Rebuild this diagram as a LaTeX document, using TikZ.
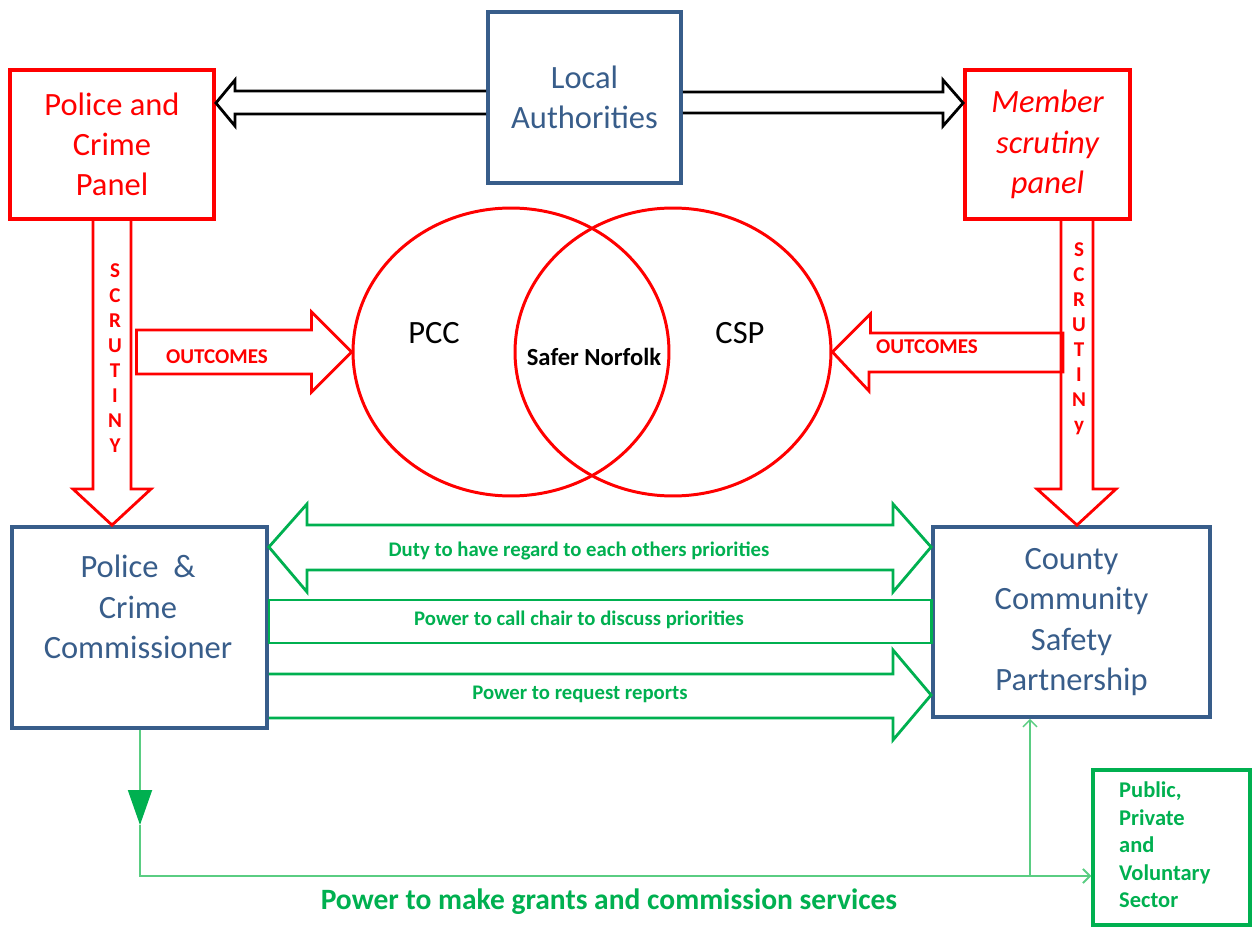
\documentclass[tikz,border=0pt]{standalone}
\usepackage{fontspec}
\setmainfont{Carlito}
\usetikzlibrary{positioning,arrows.meta,calc,shapes.geometric}
\definecolor{boxBlue}{RGB}{56,93,138}
\definecolor{panelRed}{RGB}{255,0,0}
\definecolor{dutyGreen}{RGB}{0,176,80}
\definecolor{lineGreen}{RGB}{90,205,130}

\begin{document}
\begin{tikzpicture}[x=0.02cm,y=-0.02cm,
                  bluebox/.style={draw=boxBlue,line width=2.2pt,align=center,text=boxBlue,font=\fontsize{18.5}{22.9}\selectfont},
                  redbox/.style={draw=panelRed,line width=2.2pt,align=center,text=panelRed,font=\fontsize{18.5}{22.9}\selectfont},
                  bluetext/.style={align=center,text=boxBlue,font=\fontsize{18.5}{22.9}\selectfont},
                  ring/.style={ellipse,draw=panelRed,line width=1.7pt,minimum width=6.32cm,minimum height=5.76cm},
                  ringtext/.style={text=black,font=\fontsize{18.5}{22}\selectfont},
                  hollow/.style={draw=black,line width=1.6pt,line join=miter},
                  redarr/.style={draw=panelRed,line width=1.6pt,line join=miter},
                  grnarr/.style={draw=dutyGreen,line width=1.6pt,line join=miter},
                  redlbl/.style={text=panelRed,font=\bfseries\fontsize{12}{14.2}\selectfont,align=center},
                  grnlbl/.style={text=dutyGreen,font=\bfseries\fontsize{11.8}{13}\selectfont},
                  feed/.style={draw=lineGreen,line width=1.1pt}
                ]
                \useasboundingbox (0,0) rectangle (1252,929);
                
                % boxes
                \node[bluebox,minimum width=3.86cm,minimum height=3.42cm] (la) at (584.5,97.5) {Local\\Authorities};
                \node[redbox,minimum width=4.08cm,minimum height=2.98cm] (pcp) at (112,144.5) {Police and\\Crime\\Panel};
                \node[redbox,font=\itshape\fontsize{18.5}{22.9}\selectfont,minimum width=3.3cm,minimum height=2.98cm] (msp) at (1047.5,144.5) {Member\\scrutiny\\panel};
                \node[bluebox,minimum width=5.1cm,minimum height=4.02cm] (pcc) at (139.5,627.5) {};
                \node[bluetext] (pcctext) at (138,607) {Police\ \ \&\\Crime\\Commissioner};
                \node[bluebox,minimum width=5.54cm,minimum height=3.8cm] (ccsp) at (1071.5,622) {County\\Community\\Safety\\Partnership};
                \node[draw=dutyGreen,line width=2pt,minimum width=3.14cm,minimum height=3.1cm] (pub) at (1171.5,847.5) {};
                \node[text=dutyGreen,font=\bfseries\fontsize{12.8}{15.6}\selectfont,align=left,anchor=west] (pubtext) at (1113,845) {Public,\\Private\\and\\Voluntary\\Sector};
                
                % rings
                \node[ring] (pccring) at (511,352) {};
                \node[ring] (cspring) at (673,352) {};
                \node[ringtext] (pcclbl) at (434,333) {PCC};
                \node[ringtext] (csplbl) at (740,333) {CSP};
                \node[font=\bfseries\fontsize{14}{16}\selectfont] (safer) at (594,357) {Safer Norfolk};
                
                % local authorities links
                \draw[hollow] (la.west |- 0,91) -- (235,91) -- (235,80) -- (pcp.east |- 0,103) -- (235,126) -- (235,114) -- (la.west |- 0,114);
                \draw[hollow] (la.east |- 0,92) -- (943,92) -- (943,80) -- (msp.west |- 0,103) -- (943,126) -- (943,113) -- (la.east |- 0,113);
                
                % scrutiny and outcomes
                \draw[redarr] ($(pcp.south)+(-19,0)$) -- (93,489) -- (73,489) -- (pcc.north -| pcp.south) -- (151,489) -- (131,489) -- ($(pcp.south)+(19,0)$);
                \node[redlbl] (scrleft) at (115,358) {S\\C\\R\\U\\T\\I\\N\\Y};
                \draw[redarr] (1061,0 |- msp.south) -- (1061,489) -- (1037,489) -- (ccsp.north -| 1077,0) -- (1116,489) -- (1093,489) -- (1093,0 |- msp.south);
                \node[redlbl] (scrright) at (1079,339) {S\\C\\R\\U\\T\\I\\N\\y};
                \draw[redarr] (pccring.west) -- ++(-40,-40) -- ++(0,18) -- ++(-175,0) -- ++(0,44) -- ++(175,0) -- ++(0,18) -- cycle;
                \node[redlbl] (outleft) at (217,357) {OUTCOMES};
                \draw[redarr] (cspring.east) -- ++(38,-38) -- ++(0,19) -- (1063,333) -- (1063,372) -- (869,372) -- (869,391) -- cycle;
                \node[redlbl] (outright) at (927,347) {OUTCOMES};
                
                % duties and powers
                \draw[grnarr] (pcc.east |- 0,547) -- (307,504) -- (307,525) -- (893,525) -- (893,504) -- (ccsp.west |- 0,547) -- (893,592) -- (893,570) -- (307,570) -- (307,592) -- cycle;
                \node[grnlbl] (duty) at (579,551) {Duty to have regard to each others priorities};
                \draw[grnarr] (pcc.east |- 0,600) rectangle (ccsp.west |- 0,643);
                \node[grnlbl] (callchair) at (579,620) {Power to call chair to discuss priorities};
                \draw[grnarr] (pcc.east |- 0,674) -- (893,674) -- (893,650) -- (ccsp.west |- 0,695) -- (893,740) -- (893,718) -- (pcc.east |- 0,718);
                \node[grnlbl] (reports) at (580,694) {Power to request reports};
                
                % grants
                \coordinate (drop) at (140,825);
                \coordinate (corner) at (140,876);
                \coordinate (split) at (1030,876);
                \draw[feed,-{Triangle[length=35*0.02cm,width=24*0.02cm,color=dutyGreen]}] (pcc.south -| drop) -- (drop);
                \draw[feed,-{Straight Barb[length=4pt,width=8pt]}] (drop) -- (corner) -- (pub.west |- corner);
                \draw[feed,line width=0.8pt,-{Straight Barb[length=4pt,width=8pt]}] (split) -- (ccsp.south -| split);
                \node[text=dutyGreen,font=\bfseries\fontsize{16.8}{19}\selectfont] (grants) at (609,902) {Power to make grants and commission services};
                \end{tikzpicture}
\end{document}
